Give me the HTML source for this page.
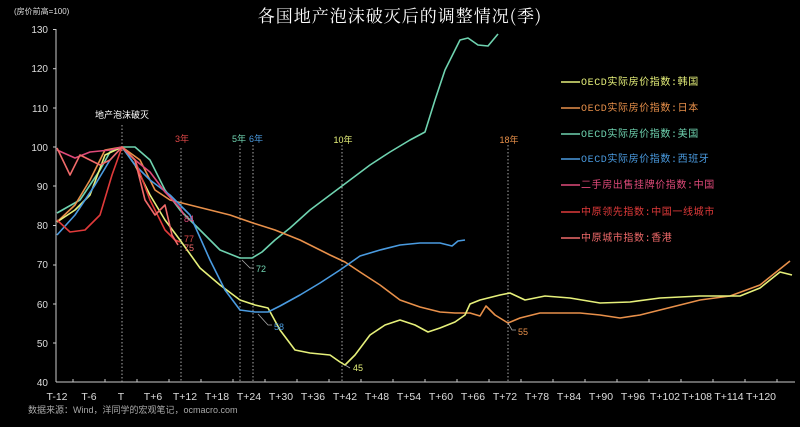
<!DOCTYPE html>
<html><head><meta charset="utf-8"><style>
body{margin:0;background:#000;width:800px;height:422px;overflow:hidden;font-family:"Liberation Sans","Noto Sans CJK SC",sans-serif}
</style></head><body>
<svg width="800" height="422" xmlns="http://www.w3.org/2000/svg" font-family="Liberation Sans, Noto Sans CJK SC, sans-serif">
<rect width="800" height="422" fill="#000"/>
<text x="400" y="22" fill="#fff" font-size="17" text-anchor="middle" letter-spacing="1" font-family="Noto Serif CJK SC, serif">各国地产泡沫破灭后的调整情况(季)</text>
<text x="14" y="14" fill="#ddd" font-size="8">(房价前高=100)</text>
<g fill="#ddd" font-size="10" text-anchor="end">
<text x="48" y="33">130</text><text x="48" y="72">120</text><text x="48" y="112">110</text><text x="48" y="151">100</text><text x="48" y="190">90</text><text x="48" y="229">80</text><text x="48" y="268">70</text><text x="48" y="308">60</text><text x="48" y="347">50</text><text x="48" y="386">40</text>
</g>
<g stroke="#ccc" stroke-width="1">
<line x1="56" y1="29" x2="56" y2="382"/><line x1="56" y1="382" x2="795" y2="382"/>
<line x1="53" y1="29.5" x2="56" y2="29.5"/><line x1="53" y1="68.7" x2="56" y2="68.7"/><line x1="53" y1="108" x2="56" y2="108"/><line x1="53" y1="147" x2="56" y2="147"/><line x1="53" y1="186" x2="56" y2="186"/><line x1="53" y1="225.5" x2="56" y2="225.5"/><line x1="53" y1="265" x2="56" y2="265"/><line x1="53" y1="304" x2="56" y2="304"/><line x1="53" y1="343" x2="56" y2="343"/>
<line x1="73" y1="379" x2="73" y2="382"/><line x1="105" y1="379" x2="105" y2="382"/><line x1="137" y1="379" x2="137" y2="382"/><line x1="169" y1="379" x2="169" y2="382"/><line x1="201" y1="379" x2="201" y2="382"/><line x1="233" y1="379" x2="233" y2="382"/><line x1="265" y1="379" x2="265" y2="382"/><line x1="297" y1="379" x2="297" y2="382"/><line x1="329" y1="379" x2="329" y2="382"/><line x1="361" y1="379" x2="361" y2="382"/><line x1="393" y1="379" x2="393" y2="382"/><line x1="425" y1="379" x2="425" y2="382"/><line x1="457" y1="379" x2="457" y2="382"/><line x1="489" y1="379" x2="489" y2="382"/><line x1="521" y1="379" x2="521" y2="382"/><line x1="553" y1="379" x2="553" y2="382"/><line x1="585" y1="379" x2="585" y2="382"/><line x1="617" y1="379" x2="617" y2="382"/><line x1="649" y1="379" x2="649" y2="382"/><line x1="681" y1="379" x2="681" y2="382"/><line x1="713" y1="379" x2="713" y2="382"/><line x1="745" y1="379" x2="745" y2="382"/><line x1="777" y1="379" x2="777" y2="382"/>
</g>
<g fill="#ddd" font-size="10.5" text-anchor="middle">
<text x="57" y="400">T-12</text><text x="89" y="400">T-6</text><text x="121" y="400">T</text><text x="153" y="400">T+6</text><text x="185" y="400">T+12</text><text x="217" y="400">T+18</text><text x="249" y="400">T+24</text><text x="281" y="400">T+30</text><text x="313" y="400">T+36</text><text x="345" y="400">T+42</text><text x="377" y="400">T+48</text><text x="409" y="400">T+54</text><text x="441" y="400">T+60</text><text x="473" y="400">T+66</text><text x="505" y="400">T+72</text><text x="537" y="400">T+78</text><text x="569" y="400">T+84</text><text x="601" y="400">T+90</text><text x="633" y="400">T+96</text><text x="665" y="400">T+102</text><text x="697" y="400">T+108</text><text x="729" y="400">T+114</text><text x="761" y="400">T+120</text>
</g>
<text x="28" y="413" fill="#aaa" font-size="9">数据来源：Wind，洋同学的宏观笔记，ocmacro.com</text>
<g stroke="#aaa" stroke-width="1" stroke-dasharray="1.5,2">
<line x1="122" y1="125" x2="122" y2="382"/><line x1="181" y1="148" x2="181" y2="382"/><line x1="240" y1="145" x2="240" y2="382"/><line x1="253" y1="145" x2="253" y2="382"/><line x1="342" y1="145" x2="342" y2="382"/><line x1="508" y1="145" x2="508" y2="382"/>
</g>
<text x="122" y="118" fill="#fff" font-size="9" text-anchor="middle">地产泡沫破灭</text>
<text x="182" y="142" fill="#e04848" font-size="9" text-anchor="middle">3年</text>
<text x="239" y="142" fill="#6fd3b0" font-size="9" text-anchor="middle">5年</text>
<text x="256" y="142" fill="#4a9be0" font-size="9" text-anchor="middle">6年</text>
<text x="343" y="143" fill="#e6f07a" font-size="9" text-anchor="middle">10年</text>
<text x="509" y="143" fill="#e8904a" font-size="9" text-anchor="middle">18年</text>
<g fill="none" stroke-width="1.6" stroke-linejoin="round">
<polyline stroke="#6fd3b0" points="57,213 80,200 100,170 110,152 122,147 135,147 150,160 165,190 180,210 200,230 220,250 240,258 252,258 262,252 275,240 290,228 310,210 330,195 350,180 370,165 390,152 410,140 425,132 435,100 445,70 460,40 468,38 478,45 488,46 498,34"/>
<polyline stroke="#e8904a" points="57,222 75,205 90,180 105,150 122,147 140,160 155,190 170,200 190,205 210,210 230,215 253,223 275,230 300,240 330,255 345,262 360,272 380,285 400,300 420,307 440,312 455,313 470,313 480,316 486,306 495,315 508,323 520,318 540,313 560,313 580,313 600,315 620,318 640,315 660,310 700,300 730,296 760,285 790,261"/>
<polyline stroke="#e6f07a" points="57,222 75,210 90,195 105,155 122,147 135,165 150,195 165,220 180,240 200,268 220,285 240,300 255,305 268,308 280,330 295,350 310,353 330,355 340,362 345,365 355,355 370,335 385,325 400,320 415,325 428,332 440,328 455,322 465,315 470,304 480,300 500,295 510,293 525,300 545,296 570,298 600,303 630,302 660,298 700,296 740,296 760,288 780,272 792,275"/>
<polyline stroke="#4a9be0" points="57,235 75,215 95,185 110,160 122,147 135,165 150,180 170,195 190,215 210,260 225,290 240,310 255,312 268,312 280,306 300,295 320,283 340,270 360,256 380,250 400,245 420,243 440,243 452,246 458,241 465,240"/>
<polyline stroke="#e04a7a" points="57,150 75,158 90,152 110,150 122,147 135,160 150,172 165,192 180,208 184,215"/>
<polyline stroke="#e03a3a" points="57,220 70,232 85,230 100,215 112,175 122,147 135,160 150,200 165,230 175,240 180,242"/>
<polyline stroke="#f06a6a" points="57,148 70,175 80,155 90,160 100,165 110,160 122,147 135,160 145,200 155,215 165,205 172,235 178,245"/>
</g>
<g font-size="9">
<text x="184" y="222" fill="#e04a7a">84</text>
<text x="184" y="242" fill="#e04848">77</text>
<text x="184" y="251" fill="#f06a6a">75</text>
<text x="256" y="272" fill="#6fd3b0">72</text>
<text x="274" y="330" fill="#4a9be0">58</text>
<text x="353" y="371" fill="#e6f07a">45</text>
<text x="518" y="335" fill="#e8904a">55</text>
</g>
<g stroke="#aaa" stroke-width="0.8" fill="none">
<polyline points="242,260 250,268 254,268"/><polyline points="258,314 268,325 272,325"/><polyline points="345,365 350,368"/><polyline points="508,323 512,330 516,330"/>
</g>
<g font-size="10" letter-spacing="0.6" font-family="Liberation Mono, Noto Sans CJK SC, monospace">
<line x1="561" y1="82" x2="580" y2="82" stroke="#e6f07a" stroke-width="1.6"/><text x="581" y="85" fill="#e6f07a">OECD实际房价指数:韩国</text>
<line x1="561" y1="108" x2="580" y2="108" stroke="#e8904a" stroke-width="1.6"/><text x="581" y="111" fill="#e8904a">OECD实际房价指数:日本</text>
<line x1="561" y1="134" x2="580" y2="134" stroke="#6fd3b0" stroke-width="1.6"/><text x="581" y="137" fill="#6fd3b0">OECD实际房价指数:美国</text>
<line x1="561" y1="159" x2="580" y2="159" stroke="#4a9be0" stroke-width="1.6"/><text x="581" y="162" fill="#4a9be0">OECD实际房价指数:西班牙</text>
<line x1="561" y1="185" x2="580" y2="185" stroke="#e04a7a" stroke-width="1.6"/><text x="581" y="188" fill="#e04a7a">二手房出售挂牌价指数:中国</text>
<line x1="561" y1="212" x2="580" y2="212" stroke="#e03a3a" stroke-width="1.6"/><text x="581" y="215" fill="#e03a3a">中原领先指数:中国一线城市</text>
<line x1="561" y1="238" x2="580" y2="238" stroke="#f06a6a" stroke-width="1.6"/><text x="581" y="241" fill="#f06a6a">中原城市指数:香港</text>
</g>
</svg>
</body></html>
